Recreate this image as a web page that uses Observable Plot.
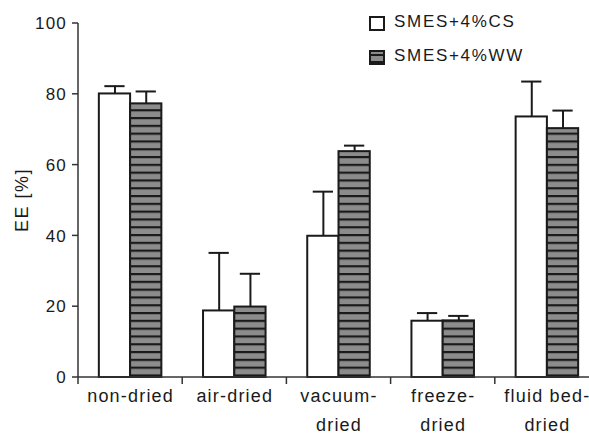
<!DOCTYPE html>
<html><head><meta charset="utf-8">
<script src="https://cdn.jsdelivr.net/npm/d3@7"></script>
<script src="https://cdn.jsdelivr.net/npm/@observablehq/plot@0.6"></script>
<style>
body{margin:0;background:#fff;}
#wrap{position:relative;width:589px;height:435px;overflow:hidden;font-family:"Liberation Sans",Arial,sans-serif;color:#1a1a1a;}
#wrap svg text{letter-spacing:1.2px;}
#wrap svg text.cat{letter-spacing:1.4px;}
#wrap svg text.ylab{letter-spacing:1.5px;}
.leg{position:absolute;font-size:17px;line-height:17px;letter-spacing:1.7px;white-space:nowrap;}
.sw{position:absolute;width:12px;height:11px;border:2px solid #1a1a1a;background:#fff;}
</style></head><body><div id="wrap"></div>
<script>
const categories = ["non-dried","air-dried","vacuum-dried","freeze-dried","fluid bed-dried"];
const categoryLabels = ["non-dried","air-dried","vacuum-\ndried","freeze-\ndried","fluid bed-\ndried"];
const seriesNames = ["SMES+4%CS","SMES+4%WW"];
const csValues = [80.1, 18.8, 39.9, 15.9, 73.6];
const csErrors = [2.2, 16.4, 12.6, 2.3, 10.0];
const wwValues = [77.3, 19.9, 63.8, 16.0, 70.3];
const wwErrors = [3.5, 9.4, 1.7, 1.4, 5.1];
const yTicks = [0, 20, 40, 60, 80, 100];
const yLabel = "EE [%]";

const rows = [];
categories.forEach((c, i) => {
  rows.push({category: c, series: seriesNames[0], value: csValues[i], err: csErrors[i]});
  rows.push({category: c, series: seriesNames[1], value: wwValues[i], err: wwErrors[i]});
});
const ink = "#1a1a1a";

const plot = Plot.plot({
  width: 589, height: 435,
  marginTop: 23, marginBottom: 58, marginLeft: 78, marginRight: -10,
  style: {fontFamily: "'Liberation Sans', Arial, sans-serif", fontSize: "17px", color: ink, background: "white", overflow: "hidden"},
  fx: {domain: categories, paddingInner: 0.4, paddingOuter: 0.2, axis: null, label: null, round: false},
  x: {domain: seriesNames, padding: 0, axis: null, round: false},
  y: {domain: [0, 100], axis: null},
  color: {domain: seriesNames, range: ["white", "url(#ww-stripes)"]},
  marks: [
    Plot.barY(rows, {fx: "category", x: "series", y: "value", fill: "series", stroke: ink, strokeWidth: 2, inset: 0}),
    Plot.ruleX(rows, {fx: "category", x: "series", y1: "value", y2: d => d.value + d.err, stroke: ink, strokeWidth: 2}),
    Plot.tickY(rows, {fx: "category", x: "series", y: d => d.value + d.err, stroke: ink, strokeWidth: 2, inset: 5.5}),
    Plot.text(categories, {fx: d => d, text: (d, i) => categoryLabels[i], frameAnchor: "bottom", lineAnchor: "top", dy: 3, lineHeight: 1.65, fontSize: 18, fill: ink, className: "cat"})
  ]
});

const svg = d3.select(plot);
const defs = svg.insert("defs", ":first-child");
const pat = defs.append("pattern").attr("id", "ww-stripes").attr("patternUnits", "userSpaceOnUse").attr("width", 10).attr("height", 7.8);
pat.append("rect").attr("width", 10).attr("height", 7.8).attr("fill", "#8c8c8c");
pat.append("rect").attr("width", 10).attr("height", 2.2).attr("fill", ink);

const fx = plot.scale("fx"), y = plot.scale("y");
const band = d3.scaleBand(fx.domain, fx.range).paddingInner(fx.paddingInner).paddingOuter(fx.paddingOuter).align(fx.align ?? 0.5);
const step = band.step();
const y0 = y.apply(0);
const x0 = fx.range[0];
const g = svg.append("g").attr("stroke", "#333").attr("stroke-width", 1.5);
// x axis line and category-boundary ticks
g.append("line").attr("x1", x0).attr("x2", fx.range[1]).attr("y1", y0).attr("y2", y0);
fx.domain.forEach(d => {
  const bx = band(d) - step * fx.paddingInner / 2;
  g.append("line").attr("x1", bx).attr("x2", bx).attr("y1", y0).attr("y2", y0 + 7);
});
// y axis line, ticks and labels from Plot's y scale
g.append("line").attr("x1", x0).attr("x2", x0).attr("y1", y.apply(d3.max(yTicks))).attr("y2", y0);
yTicks.forEach(t => {
  const ty = y.apply(t);
  g.append("line").attr("x1", x0 - 6).attr("x2", x0).attr("y1", ty).attr("y2", ty);
  svg.append("text").attr("x", x0 - 11).attr("y", ty).attr("dy", "0.36em")
    .attr("text-anchor", "end").attr("font-size", 17).attr("fill", ink).text(t);
});
// y-axis title, centred on the y range
const yMid = (y.range[0] + y.range[1]) / 2;
svg.append("text").attr("class", "ylab")
  .attr("transform", `translate(${x0 - 56},${yMid}) rotate(-90)`)
  .attr("text-anchor", "middle").attr("dy", "0.35em")
  .attr("font-size", 18).attr("fill", ink)
  .text(yLabel);

const wrap = document.getElementById("wrap");
wrap.appendChild(plot);
// legend
const legendRows = [{name: seriesNames[0], top: 13}, {name: seriesNames[1], top: 47}];
legendRows.forEach((r, i) => {
  const sw = document.createElement("div");
  sw.className = "sw";
  sw.style.left = "369px"; sw.style.top = (r.top + 3) + "px";
  if (i === 1) sw.style.background = "repeating-linear-gradient(#8c8c8c 0 2px, #1a1a1a 2px 4px, #8c8c8c 4px 6.5px)";
  wrap.appendChild(sw);
  const t = document.createElement("div");
  t.className = "leg"; t.textContent = r.name;
  t.style.left = "394px"; t.style.top = r.top + "px";
  wrap.appendChild(t);
});
</script></body></html>
